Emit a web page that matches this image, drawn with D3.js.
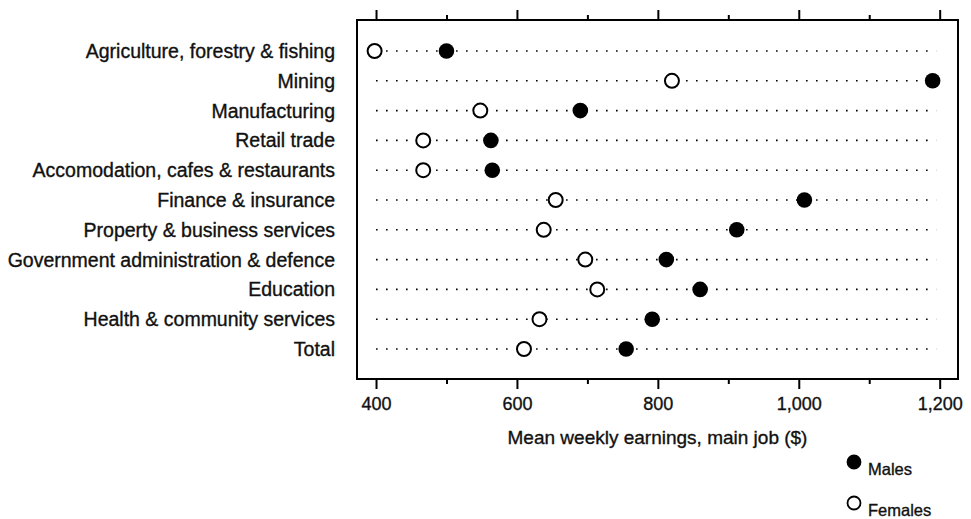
<!DOCTYPE html>
<html>
<head>
<meta charset="utf-8">
<script src="https://cdn.jsdelivr.net/npm/d3@7"></script>
<style>
  body { margin: 0; background: #fff; }
  text { font-family: "Liberation Sans", Arial, sans-serif; fill: #111; stroke: #111; stroke-width: 0.35px; }
</style>
</head>
<body>
<div id="chart"></div>
<script>
// Mean weekly earnings by industry, males vs females

var width = 971,
    height = 519;

// Data
var industries = [
  'Agriculture, forestry & fishing',
  'Mining',
  'Manufacturing',
  'Retail trade',
  'Accomodation, cafes & restaurants',
  'Finance & insurance',
  'Property & business services',
  'Government administration & defence',
  'Education',
  'Health & community services',
  'Total'
];
var males   = [500, 1190, 690, 563, 565, 1008, 912, 812, 860, 792, 755];
var females = [398, 820, 548, 467, 467, 655, 638, 697, 714, 632, 610];

var majorTicks = [400, 600, 800, 1000, 1200],
    minorTicks = [500, 700, 900, 1100];

var legendLabels = ['Males', 'Females'];

// Plot box
var box = {left: 357, right: 958, top: 20, bottom: 379};

var svg = d3.select('#chart').append('svg')
    .attr('width', width)
    .attr('height', height);

var x = d3.scaleLinear()
    .domain([373, 1226])
    .range([box.left, box.right]);

var y = d3.scalePoint()
    .domain(industries)
    .range([51, 349]);

// Frame
svg.append('rect')
    .attr('x', box.left)
    .attr('y', box.top)
    .attr('width', box.right - box.left)
    .attr('height', box.bottom - box.top)
    .attr('fill', 'none')
    .attr('stroke', '#000')
    .attr('stroke-width', 2);

// Bottom axis
var fmt = d3.format(',');
var gx = svg.append('g')
    .attr('transform', 'translate(0,' + box.bottom + ')')
    .call(d3.axisBottom(x).tickValues(majorTicks).tickSize(10).tickFormat(fmt));
gx.select('.domain').remove();
gx.selectAll('.tick line').attr('stroke', '#000').attr('stroke-width', 2);
gx.selectAll('.tick text')
    .attr('y', 18)
    .style('font-family', '"Liberation Sans", Arial, sans-serif')
    .style('font-size', '18px')
    .attr('fill', '#111');

var gxMinor = svg.append('g')
    .attr('transform', 'translate(0,' + box.bottom + ')')
    .call(d3.axisBottom(x).tickValues(minorTicks).tickSize(5).tickFormat(''));
gxMinor.select('.domain').remove();
gxMinor.selectAll('.tick line').attr('stroke', '#000').attr('stroke-width', 2);

// Top axis, ticks only
var gTop = svg.append('g')
    .attr('transform', 'translate(0,' + box.top + ')')
    .call(d3.axisTop(x).tickValues(majorTicks).tickSize(10).tickFormat(''));
gTop.select('.domain').remove();
gTop.selectAll('.tick line').attr('stroke', '#000').attr('stroke-width', 2);

var gTopMinor = svg.append('g')
    .attr('transform', 'translate(0,' + box.top + ')')
    .call(d3.axisTop(x).tickValues(minorTicks).tickSize(5).tickFormat(''));
gTopMinor.select('.domain').remove();
gTopMinor.selectAll('.tick line').attr('stroke', '#000').attr('stroke-width', 2);

// Axis title
svg.append('text')
    .attr('x', (box.left + box.right) / 2)
    .attr('y', 444)
    .attr('text-anchor', 'middle')
    .style('font-size', '19px')
    .text('Mean weekly earnings, main job ($)');

// Category labels
svg.append('g').selectAll('text')
  .data(industries)
  .enter().append('text')
    .attr('x', 335)
    .attr('y', function(d) { return y(d); })
    .attr('dy', '0.36em')
    .attr('text-anchor', 'end')
    .style('font-size', '19.5px')
    .text(function(d) { return d; });

// Dotted guide lines
svg.append('g').selectAll('line')
  .data(industries)
  .enter().append('line')
    .attr('x1', x(400))
    .attr('x2', x(1195))
    .attr('y1', function(d) { return y(d); })
    .attr('y2', function(d) { return y(d); })
    .attr('stroke', '#000')
    .attr('stroke-width', 1.6)
    .attr('stroke-dasharray', '1.6,8.4');

// Females (open circles)
svg.append('g').selectAll('circle')
  .data(females)
  .enter().append('circle')
    .attr('cx', function(d) { return x(d); })
    .attr('cy', function(d, i) { return y(industries[i]); })
    .attr('r', 7)
    .attr('fill', '#fff')
    .attr('stroke', '#000')
    .attr('stroke-width', 2);

// Males (filled circles)
svg.append('g').selectAll('circle')
  .data(males)
  .enter().append('circle')
    .attr('cx', function(d) { return x(d); })
    .attr('cy', function(d, i) { return y(industries[i]); })
    .attr('r', 7.8)
    .attr('fill', '#000');

// Legend
var lg = svg.append('g').selectAll('g')
  .data(legendLabels)
  .enter().append('g')
    .attr('transform', function(d, i) { return 'translate(854,' + (462 + i * 41) + ')'; });
lg.append('circle')
    .attr('r', 6.5)
    .attr('fill', function(d, i) { return i === 0 ? '#000' : '#fff'; })
    .attr('stroke', '#000')
    .attr('stroke-width', 1.8);
lg.append('text')
    .attr('x', 14)
    .attr('y', 13)
    .style('font-size', '16.5px')
    .text(function(d) { return d; });
</script>
</body>
</html>
